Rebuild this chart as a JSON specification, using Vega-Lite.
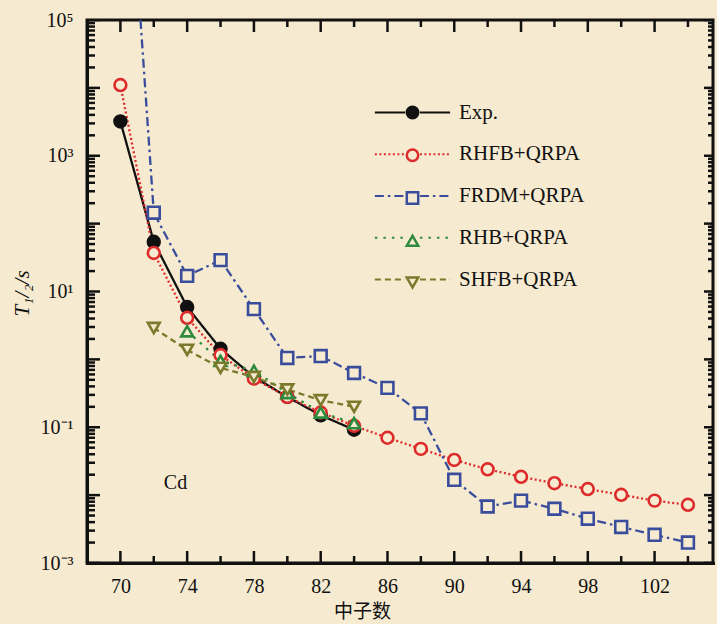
{
  "$schema": "https://vega.github.io/schema/vega-lite/v6.json",
  "width": 626,
  "height": 543,
  "autosize": {"type": "none"},
  "padding": {"left": 87, "top": 20, "right": 4, "bottom": 61},
  "background": "#f6ebd0",
  "config": {
    "view": {"stroke": "#111111", "strokeWidth": 3},
    "font": "Liberation Serif",
    "axis": {"grid": false, "domainColor": "#111111", "domainWidth": 3, "domainCap": "square", "ticks": false, "labelOverlap": false}
  },
  "datasets": {
    "hl": [
      {"series": "Exp.", "N": 70, "T": 3200},
      {"series": "Exp.", "N": 72, "T": 54},
      {"series": "Exp.", "N": 74, "T": 5.9},
      {"series": "Exp.", "N": 76, "T": 1.43},
      {"series": "Exp.", "N": 78, "T": 0.55},
      {"series": "Exp.", "N": 80, "T": 0.28},
      {"series": "Exp.", "N": 82, "T": 0.15},
      {"series": "Exp.", "N": 84, "T": 0.092},
      {"series": "RHFB+QRPA", "N": 70, "T": 11000},
      {"series": "RHFB+QRPA", "N": 72, "T": 37},
      {"series": "RHFB+QRPA", "N": 74, "T": 4.1},
      {"series": "RHFB+QRPA", "N": 76, "T": 1.16},
      {"series": "RHFB+QRPA", "N": 78, "T": 0.52},
      {"series": "RHFB+QRPA", "N": 80, "T": 0.28},
      {"series": "RHFB+QRPA", "N": 82, "T": 0.165},
      {"series": "RHFB+QRPA", "N": 84, "T": 0.105},
      {"series": "RHFB+QRPA", "N": 86, "T": 0.07},
      {"series": "RHFB+QRPA", "N": 88, "T": 0.048},
      {"series": "RHFB+QRPA", "N": 90, "T": 0.033},
      {"series": "RHFB+QRPA", "N": 92, "T": 0.024},
      {"series": "RHFB+QRPA", "N": 94, "T": 0.0186},
      {"series": "RHFB+QRPA", "N": 96, "T": 0.015},
      {"series": "RHFB+QRPA", "N": 98, "T": 0.0123},
      {"series": "RHFB+QRPA", "N": 100, "T": 0.0101},
      {"series": "RHFB+QRPA", "N": 102, "T": 0.0083},
      {"series": "RHFB+QRPA", "N": 104, "T": 0.0072},
      {"series": "FRDM+QRPA", "N": 70, "T": 2000000000},
      {"series": "FRDM+QRPA", "N": 72, "T": 145},
      {"series": "FRDM+QRPA", "N": 74, "T": 17},
      {"series": "FRDM+QRPA", "N": 76, "T": 29},
      {"series": "FRDM+QRPA", "N": 78, "T": 5.5},
      {"series": "FRDM+QRPA", "N": 80, "T": 1.05},
      {"series": "FRDM+QRPA", "N": 82, "T": 1.12},
      {"series": "FRDM+QRPA", "N": 84, "T": 0.63},
      {"series": "FRDM+QRPA", "N": 86, "T": 0.38},
      {"series": "FRDM+QRPA", "N": 88, "T": 0.16},
      {"series": "FRDM+QRPA", "N": 90, "T": 0.0168},
      {"series": "FRDM+QRPA", "N": 92, "T": 0.0068},
      {"series": "FRDM+QRPA", "N": 94, "T": 0.0083},
      {"series": "FRDM+QRPA", "N": 96, "T": 0.0063},
      {"series": "FRDM+QRPA", "N": 98, "T": 0.0045},
      {"series": "FRDM+QRPA", "N": 100, "T": 0.0034},
      {"series": "FRDM+QRPA", "N": 102, "T": 0.0026},
      {"series": "FRDM+QRPA", "N": 104, "T": 0.002},
      {"series": "RHB+QRPA", "N": 74, "T": 2.6},
      {"series": "RHB+QRPA", "N": 76, "T": 0.95},
      {"series": "RHB+QRPA", "N": 78, "T": 0.68},
      {"series": "RHB+QRPA", "N": 80, "T": 0.32},
      {"series": "RHB+QRPA", "N": 82, "T": 0.165},
      {"series": "RHB+QRPA", "N": 84, "T": 0.115},
      {"series": "SHFB+QRPA", "N": 72, "T": 2.9},
      {"series": "SHFB+QRPA", "N": 74, "T": 1.38},
      {"series": "SHFB+QRPA", "N": 76, "T": 0.75},
      {"series": "SHFB+QRPA", "N": 78, "T": 0.55},
      {"series": "SHFB+QRPA", "N": 80, "T": 0.36},
      {"series": "SHFB+QRPA", "N": 82, "T": 0.25},
      {"series": "SHFB+QRPA", "N": 84, "T": 0.2}
    ],
    "xt": [
      {"tv": 70, "kind": "major"}, {"tv": 72, "kind": "minor"}, {"tv": 74, "kind": "major"}, {"tv": 76, "kind": "minor"},
      {"tv": 78, "kind": "major"}, {"tv": 80, "kind": "minor"}, {"tv": 82, "kind": "major"}, {"tv": 84, "kind": "minor"},
      {"tv": 86, "kind": "major"}, {"tv": 88, "kind": "minor"}, {"tv": 90, "kind": "major"}, {"tv": 92, "kind": "minor"},
      {"tv": 94, "kind": "major"}, {"tv": 96, "kind": "minor"}, {"tv": 98, "kind": "major"}, {"tv": 100, "kind": "minor"},
      {"tv": 102, "kind": "major"}, {"tv": 104, "kind": "minor"}
    ],
    "yt": [
      {"tv": 0.001, "kind": "major"}, {"tv": 0.002, "kind": "minor"}, {"tv": 0.003, "kind": "minor"}, {"tv": 0.004, "kind": "minor"}, {"tv": 0.005, "kind": "minor"}, {"tv": 0.006, "kind": "minor"}, {"tv": 0.007, "kind": "minor"}, {"tv": 0.008, "kind": "minor"}, {"tv": 0.009, "kind": "minor"},
      {"tv": 0.01, "kind": "major"}, {"tv": 0.02, "kind": "minor"}, {"tv": 0.03, "kind": "minor"}, {"tv": 0.04, "kind": "minor"}, {"tv": 0.05, "kind": "minor"}, {"tv": 0.06, "kind": "minor"}, {"tv": 0.07, "kind": "minor"}, {"tv": 0.08, "kind": "minor"}, {"tv": 0.09, "kind": "minor"},
      {"tv": 0.1, "kind": "major"}, {"tv": 0.2, "kind": "minor"}, {"tv": 0.3, "kind": "minor"}, {"tv": 0.4, "kind": "minor"}, {"tv": 0.5, "kind": "minor"}, {"tv": 0.6, "kind": "minor"}, {"tv": 0.7, "kind": "minor"}, {"tv": 0.8, "kind": "minor"}, {"tv": 0.9, "kind": "minor"},
      {"tv": 1, "kind": "major"}, {"tv": 2, "kind": "minor"}, {"tv": 3, "kind": "minor"}, {"tv": 4, "kind": "minor"}, {"tv": 5, "kind": "minor"}, {"tv": 6, "kind": "minor"}, {"tv": 7, "kind": "minor"}, {"tv": 8, "kind": "minor"}, {"tv": 9, "kind": "minor"},
      {"tv": 10, "kind": "major"}, {"tv": 20, "kind": "minor"}, {"tv": 30, "kind": "minor"}, {"tv": 40, "kind": "minor"}, {"tv": 50, "kind": "minor"}, {"tv": 60, "kind": "minor"}, {"tv": 70, "kind": "minor"}, {"tv": 80, "kind": "minor"}, {"tv": 90, "kind": "minor"},
      {"tv": 100, "kind": "major"}, {"tv": 200, "kind": "minor"}, {"tv": 300, "kind": "minor"}, {"tv": 400, "kind": "minor"}, {"tv": 500, "kind": "minor"}, {"tv": 600, "kind": "minor"}, {"tv": 700, "kind": "minor"}, {"tv": 800, "kind": "minor"}, {"tv": 900, "kind": "minor"},
      {"tv": 1000, "kind": "major"}, {"tv": 2000, "kind": "minor"}, {"tv": 3000, "kind": "minor"}, {"tv": 4000, "kind": "minor"}, {"tv": 5000, "kind": "minor"}, {"tv": 6000, "kind": "minor"}, {"tv": 7000, "kind": "minor"}, {"tv": 8000, "kind": "minor"}, {"tv": 9000, "kind": "minor"},
      {"tv": 10000, "kind": "major"}, {"tv": 20000, "kind": "minor"}, {"tv": 30000, "kind": "minor"}, {"tv": 40000, "kind": "minor"}, {"tv": 50000, "kind": "minor"}, {"tv": 60000, "kind": "minor"}, {"tv": 70000, "kind": "minor"}, {"tv": 80000, "kind": "minor"}, {"tv": 90000, "kind": "minor"},
      {"tv": 100000, "kind": "major"}
    ]
  },
  "layer": [
    {
      "data": {"name": "hl"},
      "mark": {"type": "line", "clip": true, "strokeWidth": 2.3},
      "encoding": {
        "x": {
          "field": "N", "type": "quantitative",
          "scale": {"domain": [68, 105.5], "nice": false, "zero": false},
          "axis": {
            "orient": "bottom",
            "values": [70, 74, 78, 82, 86, 90, 94, 98, 102],
            "labelPadding": 13, "labelFont": "Liberation Serif", "labelFontSize": 20, "labelColor": "#111111",
            "title": "中子数", "titleFont": "Noto Sans CJK SC", "titleFontSize": 19, "titleFontWeight": "normal",
            "titleColor": "#111111", "titleX": 275, "titleY": 48, "titleBaseline": "middle"
          }
        },
        "y": {
          "field": "T", "type": "quantitative",
          "scale": {"type": "log", "domain": [0.001, 100000], "nice": false},
          "axis": {
            "orient": "left",
            "values": [0.001, 0.01, 0.1, 1, 10, 100, 1000, 10000, 100000],
            "labelExpr": "datum.value == 100000 ? '10⁵' : datum.value == 1000 ? '10³' : datum.value == 10 ? '10¹' : datum.value == 0.1 ? '10⁻¹' : datum.value == 0.001 ? '10⁻³' : ''",
            "labelPadding": 14, "labelFont": "Liberation Serif", "labelFontSize": 20, "labelColor": "#111111",
            "title": "T₁/₂/s", "titleFont": "Liberation Serif", "titleFontSize": 21, "titleFontWeight": "normal",
            "titleFontStyle": "italic", "titleColor": "#111111",
            "titleX": -65, "titleY": 273, "titleBaseline": "middle", "titleAngle": -90
          }
        },
        "color": {
          "field": "series", "type": "nominal",
          "scale": {"domain": ["Exp.", "RHFB+QRPA", "FRDM+QRPA", "RHB+QRPA", "SHFB+QRPA"],
                    "range": ["#111111", "#dd2b2b", "#3a4d9c", "#2e8b3d", "#7b7a2c"]},
          "legend": null
        },
        "strokeDash": {
          "field": "series", "type": "nominal",
          "scale": {"domain": ["Exp.", "RHFB+QRPA", "FRDM+QRPA", "RHB+QRPA", "SHFB+QRPA"],
                    "range": [[1, 0], [2, 2.5], [9, 4, 2.5, 4], [2.5, 6], [6, 4]]},
          "legend": null
        }
      }
    },
    {
      "data": {"name": "xt"},
      "mark": {"type": "tick", "orient": "vertical", "clip": true, "thickness": 2.5, "color": "#111111", "opacity": 1},
      "encoding": {
        "x": {"field": "tv", "type": "quantitative"},
        "y": {"datum": 0.001, "type": "quantitative"},
        "size": {"field": "kind", "type": "ordinal", "scale": {"domain": ["major", "minor"], "range": [24, 14]}, "legend": null}
      }
    },
    {
      "data": {"name": "xt"},
      "mark": {"type": "tick", "orient": "vertical", "clip": true, "thickness": 2.5, "color": "#111111", "opacity": 1},
      "encoding": {
        "x": {"field": "tv", "type": "quantitative"},
        "y": {"datum": 100000, "type": "quantitative"},
        "size": {"field": "kind", "type": "ordinal", "scale": {"domain": ["major", "minor"], "range": [24, 14]}, "legend": null}
      }
    },
    {
      "data": {"name": "yt"},
      "mark": {"type": "tick", "orient": "horizontal", "clip": true, "thickness": 2.5, "color": "#111111", "opacity": 1},
      "encoding": {
        "y": {"field": "tv", "type": "quantitative"},
        "x": {"datum": 68, "type": "quantitative"},
        "size": {"field": "kind", "type": "ordinal", "scale": {"domain": ["major", "minor"], "range": [26, 16]}, "legend": null}
      }
    },
    {
      "data": {"name": "yt"},
      "mark": {"type": "tick", "orient": "horizontal", "clip": true, "thickness": 2.5, "color": "#111111", "opacity": 1},
      "encoding": {
        "y": {"field": "tv", "type": "quantitative"},
        "x": {"datum": 105.5, "type": "quantitative"},
        "size": {"field": "kind", "type": "ordinal", "scale": {"domain": ["major", "minor"], "range": [18, 10]}, "legend": null}
      }
    },
    {
      "data": {"name": "hl"},
      "mark": {"type": "point", "clip": true, "size": 140, "strokeWidth": 2.6, "opacity": 1},
      "encoding": {
        "x": {"field": "N", "type": "quantitative"},
        "y": {"field": "T", "type": "quantitative"},
        "shape": {
          "field": "series", "type": "nominal",
          "scale": {"domain": ["Exp.", "RHFB+QRPA", "FRDM+QRPA", "RHB+QRPA", "SHFB+QRPA"],
                    "range": ["circle", "circle", "square", "triangle-up", "triangle-down"]},
          "legend": {
            "title": null, "orient": "none", "legendX": 315, "legendY": 82, "padding": 0,
            "symbolSize": 130, "symbolStrokeWidth": 2.5, "symbolOpacity": 1,
            "labelFont": "Liberation Serif", "labelFontSize": 21, "labelColor": "transparent",
            "labelExpr": "''",
            "labelOffset": 36, "rowPadding": 19.75, "labelLimit": 300
          }
        },
        "stroke": {
          "field": "series", "type": "nominal",
          "scale": {"domain": ["Exp.", "RHFB+QRPA", "FRDM+QRPA", "RHB+QRPA", "SHFB+QRPA"],
                    "range": ["#111111", "#dd2b2b", "#3a4d9c", "#2e8b3d", "#7b7a2c"]}
        },
        "fill": {
          "field": "series", "type": "nominal",
          "scale": {"domain": ["Exp.", "RHFB+QRPA", "FRDM+QRPA", "RHB+QRPA", "SHFB+QRPA"],
                    "range": ["#111111", "#f6ebd0", "#f6ebd0", "#f6ebd0", "#f6ebd0"]}
        }
      }
    },
    {
      "data": {"name": "hl"},
      "transform": [{"filter": "datum.N > 1000"}],
      "mark": {"type": "point", "strokeWidth": 2, "opacity": 1},
      "encoding": {
        "x": {"field": "N", "type": "quantitative"},
        "y": {"field": "T", "type": "quantitative"},
        "shape": {
          "field": "series", "type": "nominal",
          "scale": {"domain": ["Exp.", "RHFB+QRPA", "FRDM+QRPA", "RHB+QRPA", "SHFB+QRPA"],
                    "range": ["M-6.6,0H-1.3M1.3,0H6.6", "M-6.6,0H-1.3M1.3,0H6.6", "M-6.6,0H-1.3M1.3,0H6.6", "M-6.6,0H-1.3M1.3,0H6.6", "M-6.6,0H-1.3M1.3,0H6.6"]},
          "legend": {
            "title": null, "orient": "none", "legendX": 315, "legendY": 82, "padding": 0,
            "symbolSize": 130, "symbolStrokeWidth": 2, "symbolOpacity": 1, "symbolFillColor": "transparent",
            "labelFont": "Liberation Serif", "labelFontSize": 21, "labelColor": "#111111",
            "labelOffset": 36, "rowPadding": 19.75, "labelLimit": 300
          }
        },
        "stroke": {
          "field": "series", "type": "nominal",
          "scale": {"domain": ["Exp.", "RHFB+QRPA", "FRDM+QRPA", "RHB+QRPA", "SHFB+QRPA"],
                    "range": ["#111111", "#dd2b2b", "#3a4d9c", "#2e8b3d", "#7b7a2c"]}
        },
        "strokeDash": {
          "field": "series", "type": "nominal",
          "scale": {"domain": ["Exp.", "RHFB+QRPA", "FRDM+QRPA", "RHB+QRPA", "SHFB+QRPA"],
                    "range": [[1, 0], [2, 2.5], [9, 4, 2.5, 4], [2.5, 6], [6, 4]]}
        }
      }
    },
    {
      "data": {"values": [{"N": 73.3, "T": 0.015, "label": "Cd"}]},
      "mark": {"type": "text", "font": "Liberation Serif", "fontSize": 20, "color": "#111111"},
      "encoding": {
        "x": {"field": "N", "type": "quantitative"},
        "y": {"field": "T", "type": "quantitative"},
        "text": {"field": "label"}
      }
    }
  ],
  "resolve": {
    "scale": {"shape": "independent", "stroke": "independent", "fill": "independent", "strokeDash": "independent", "size": "independent"},
    "legend": {"shape": "independent", "stroke": "independent", "fill": "independent", "strokeDash": "independent", "size": "independent"}
  }
}
